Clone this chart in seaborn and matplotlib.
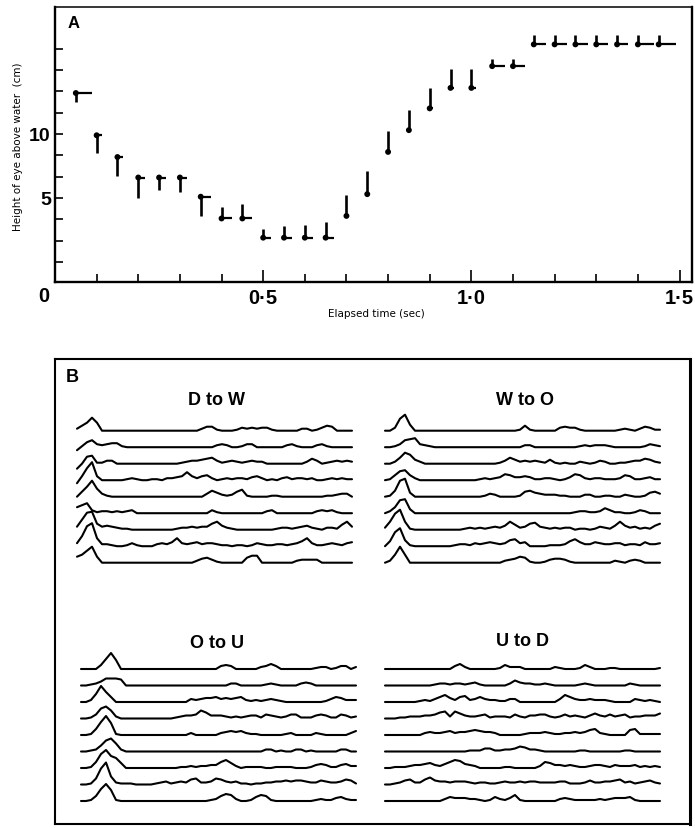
import numpy as np
import pandas as pd
import matplotlib
matplotlib.use("Agg")
import matplotlib.pyplot as plt
import seaborn as sns

sns.set_theme(style="white")
plt.rcParams["font.family"] = ["Liberation Sans", "DejaVu Sans"]
plt.rcParams["text.color"] = "black"
plt.rcParams["axes.labelcolor"] = "black"
plt.rcParams["xtick.color"] = "black"
plt.rcParams["ytick.color"] = "black"

# ---------------- Panel A data ----------------
time_s = [0.05, 0.10, 0.15, 0.20, 0.25, 0.30, 0.35, 0.40, 0.45, 0.50,
          0.55, 0.60, 0.65, 0.70, 0.75, 0.80, 0.85, 0.90, 0.95, 1.00,
          1.05, 1.10, 1.15, 1.20, 1.25, 1.30, 1.35, 1.40, 1.45]
eye_height_cm = [13.2, 9.9, 8.2, 6.6, 6.6, 6.6, 5.1, 3.4, 3.4, 1.9,
                 1.9, 1.9, 1.9, 3.6, 5.3, 8.6, 10.3, 12.0, 13.6, 13.6,
                 15.3, 15.3, 17.0, 17.0, 17.0, 17.0, 17.0, 17.0, 17.0]
stem_cm = [-0.7, -1.4, -1.5, -1.6, -1.0, -1.1, -1.5, 0.9, 1.1, 0.7,
           0.9, 1.0, 1.2, 1.6, 1.8, 1.6, 1.6, 1.6, 1.5, 1.5,
           0.55, 0.55, 0.7, 0.7, 0.7, 0.7, 0.7, 0.7, 0.7]
tail_s = [0.039, 0.012, 0.014, 0.015, 0.017, 0.017, 0.024, 0.024, 0.022, 0.02,
          0.02, 0.02, 0.02, 0.0, 0.0, 0.0, 0.0, 0.008, 0.008, 0.01,
          0.03, 0.03, 0.029, 0.029, 0.031, 0.029, 0.026, 0.038, 0.041]
y_tick_values = [k * 5 / 3 for k in range(11)]
y_tick_text = {5.0: "5", 10.0: "10"}
x_major_ticks = [0.5, 1.0, 1.5]
x_major_labels = ["0·5", "1·0", "1·5"]
x_minor_ticks = [0.1, 0.2, 0.3, 0.4, 0.6, 0.7, 0.8, 0.9, 1.1, 1.2, 1.3, 1.4]

# ---------------- Panel B data (trace heights, 56 samples each) ----------------
panel_titles = ["D to W", "W to O", "O to U", "U to D"]

d_to_w = [
    [2,5,8,13,8,0,0,0, 0,0,0,0,0,0,0,0, 0,0,0,0,0,0,0,0, 0,2,4,4,1,0,0,0, 1,3,2,3,2,3,3,1, 0,0,0,0,0,2,2,0, 1,3,5,4,0,0,0,0],
    [-3,1,5,7,3,2,3,4, 4,1,0,0,0,0,0,0, 0,0,0,0,0,0,0,0, 0,0,0,0,2,3,2,0, 0,1,3,3,0,0,0,0, 0,0,2,3,1,0,0,0, 2,3,1,0,0,0,0,0],
    [-5,0,7,8,1,1,3,3, 0,0,0,0,0,0,0,0, 0,0,0,0,0,1,2,3, 3,4,5,6,3,1,2,3, 2,1,2,3,2,2,0,0, 0,0,0,0,0,0,2,5, 3,0,1,2,3,2,3,2],
    [-3,4,12,18,4,0,0,0, 0,0,1,2,1,0,0,1, 1,0,2,2,3,4,8,4, 2,4,5,2,0,1,2,1, 2,2,1,3,4,2,0,1, 0,2,3,1,2,2,1,2, 0,0,1,2,1,2,1,1],
    [0,5,10,16,8,3,1,0, 0,0,0,0,0,0,0,0, 0,0,0,0,0,0,0,0, 0,0,3,6,4,2,1,2, 5,7,1,0,0,0,0,1, 1,0,0,0,0,0,0,0, 0,0,1,1,2,3,3,0],
    [6,8,10,3,1,2,2,1, 2,1,2,3,0,0,0,0, 0,0,0,0,0,0,0,0, 0,0,0,3,1,0,0,0, 0,0,0,0,0,0,2,3, 0,0,0,0,0,0,0,0, 2,3,2,3,1,0,0,0],
    [3,10,17,18,6,3,4,3, 2,1,1,0,0,0,0,0, 0,0,0,0,1,2,2,3, 2,3,3,6,8,4,2,1, 0,0,0,0,0,0,0,0, 1,2,2,1,2,3,4,2, 1,0,2,2,1,5,8,3],
    [3,10,20,23,8,2,2,1, 0,0,1,3,1,0,0,0, 2,3,2,4,8,3,2,3, 4,2,3,3,2,1,1,0, 1,1,0,1,3,2,1,1, 2,2,1,2,3,5,8,3, 1,1,2,3,2,1,3,4],
    [6,8,12,16,6,0,0,0, 0,0,0,0,0,0,0,0, 0,0,0,0,0,0,0,0, 2,4,5,3,1,0,0,0, 0,0,5,7,7,0,0,0, 0,0,0,0,2,3,3,3, 3,0,0,0,0,0,0,0],
]
w_to_o = [
    [0,0,3,12,16,6,0,0, 0,0,0,0,0,0,0,0, 0,0,0,0,0,0,0,0, 0,0,0,1,5,1,0,0, 0,0,0,3,4,3,3,1, 0,0,0,0,0,0,0,1, 2,1,0,2,4,3,1,1],
    [0,0,1,3,7,8,9,3, 2,1,0,0,0,0,0,0, 0,0,0,0,0,0,0,0, 0,0,0,0,2,2,0,0, 0,0,0,0,0,0,0,1, 2,1,2,2,2,1,0,0, 0,0,0,0,1,3,2,1],
    [0,0,2,6,11,9,4,2, 0,0,0,0,0,0,0,0, 0,0,0,0,0,0,0,1, 3,6,4,2,3,2,3,2, 1,4,1,0,1,0,0,2, 1,0,1,3,2,0,0,1, 1,2,3,3,5,4,2,1],
    [0,1,5,9,10,5,2,0, 0,0,0,0,0,0,0,0, 0,0,0,1,2,1,2,3, 6,5,3,3,4,3,1,1, 2,2,1,0,1,3,6,5, 2,1,2,2,1,1,1,2, 5,4,1,1,2,3,1,1],
    [0,1,6,16,18,4,0,0, 0,0,0,0,0,0,0,0, 0,0,0,0,1,3,2,0, 0,0,0,1,5,6,4,3, 2,2,2,1,1,0,0,0, 2,2,0,0,1,1,0,0, 2,1,0,0,1,4,5,3],
    [0,2,6,13,14,4,0,0, 0,0,0,0,0,0,0,0, 0,0,0,0,0,0,0,0, 0,0,0,0,0,0,0,0, 0,0,0,0,0,0,1,2, 2,1,1,2,5,3,1,1, 0,0,1,3,2,0,0,0],
    [2,8,16,20,8,1,0,0, 0,0,0,0,0,0,0,0, 1,2,1,2,1,2,3,2, 4,8,5,2,3,6,7,3, 2,1,2,1,2,2,0,1, 1,0,1,3,2,1,4,8, 4,2,3,1,2,1,4,6],
    [0,5,14,18,6,1,0,0, 0,0,0,0,0,0,1,2, 2,1,3,2,3,4,3,2, 3,6,7,3,4,0,0,0, 0,1,1,1,2,5,7,4, 2,2,4,3,2,2,3,3, 1,2,2,1,4,2,2,3],
    [0,2,8,16,8,0,0,0, 0,0,0,0,0,0,0,0, 0,0,0,0,0,0,0,0, 2,3,4,6,5,1,0,0, 1,3,4,4,3,1,0,0, 0,0,0,0,0,0,2,1, 0,2,3,2,0,0,0,0],
]
o_to_u = [
    [0,0,0,0,4,10,16,9, 0,0,0,0,0,0,0,0, 0,0,0,0,0,0,0,0, 0,0,0,0,3,4,3,0, 0,0,0,0,2,3,5,3, 0,0,0,0,0,0,0,1, 2,2,0,1,3,3,0,2],
    [0,0,1,2,4,7,7,7, 6,0,0,0,0,0,0,0, 0,0,0,0,0,0,0,0, 0,0,0,0,0,0,2,2, 0,0,0,0,0,1,2,1, 0,0,0,0,2,3,2,0, 0,0,0,0,0,0,0,0],
    [0,0,2,8,16,10,5,0, 0,0,0,0,0,0,0,0, 0,0,0,0,0,0,3,2, 3,4,4,5,3,4,3,4, 5,2,1,2,1,2,3,2, 1,0,0,0,0,0,0,0, 0,1,3,5,4,2,2,2],
    [0,0,1,4,10,12,8,2, 0,0,0,0,0,0,0,0, 0,0,0,1,2,3,3,4, 8,6,3,3,3,2,1,2, 1,2,3,3,1,4,3,2, 1,2,4,4,1,1,1,3, 4,3,1,1,4,3,1,2],
    [0,0,1,6,13,19,12,1, 0,0,0,0,0,0,0,0, 0,0,0,0,0,0,2,0, 0,0,0,0,2,3,4,3, 4,2,1,1,0,0,0,0, 0,1,2,0,0,0,0,2, 1,0,0,0,0,0,2,4],
    [0,0,1,2,6,11,13,8, 2,0,0,0,0,0,0,0, 0,0,0,0,0,0,0,0, 0,0,0,0,0,0,0,0, 0,0,0,0,0,2,2,0, 1,0,0,2,2,0,1,0, 0,0,0,0,2,2,0,0],
    [0,0,1,6,14,18,12,10, 5,0,0,0,0,0,0,0, 0,0,0,0,1,1,2,1, 2,2,3,3,6,8,5,2, 0,1,1,1,1,0,0,1, 1,1,1,0,0,0,1,3, 4,3,1,1,3,4,2,2],
    [0,0,1,6,16,22,8,2, 1,1,1,0,0,0,0,1, 2,3,1,2,3,2,5,6, 2,2,3,6,5,3,2,3, 1,1,0,1,1,2,2,3, 3,4,3,4,4,3,2,2, 4,3,2,2,3,5,4,1],
    [0,0,1,5,12,17,11,1, 0,0,0,0,0,0,0,0, 0,0,0,0,0,0,0,0, 0,0,1,2,5,7,6,2, 0,0,1,4,6,5,1,0, 0,0,0,0,0,0,0,1, 2,1,1,3,4,2,1,1],
]
u_to_d = [
    [0,0,0,0,0,0,0,0, 0,0,0,0,0,0,3,5, 2,0,0,0,0,0,0,1, 4,2,2,2,0,0,0,0, 0,0,2,1,0,0,0,1, 4,2,0,0,0,1,1,0, 0,0,0,0,0,0,0,1],
    [0,0,0,0,0,0,0,0, 0,0,1,2,2,1,2,2, 1,2,3,1,0,0,0,0, 0,2,5,3,2,2,1,1, 2,1,0,0,0,0,0,1, 2,1,0,0,0,0,0,0, 0,2,1,0,0,0,0,0],
    [0,0,0,0,0,0,0,1, 2,1,3,5,7,4,2,5, 6,2,3,5,3,2,2,1, 1,3,3,0,0,0,0,0, 0,0,0,3,7,5,3,2, 2,3,2,2,2,1,0,0, 0,0,3,2,1,2,1,0],
    [0,0,0,1,1,2,2,2, 3,3,4,6,7,2,7,5, 3,2,2,3,4,1,2,2, 2,1,4,2,1,3,3,4, 4,2,1,2,4,2,3,2, 1,3,5,3,2,4,2,3, 4,1,2,2,3,3,3,5],
    [0,0,0,0,0,0,0,0, 2,3,2,2,3,4,2,3, 3,4,5,4,3,3,2,0, 0,0,0,0,1,2,2,2, 3,2,1,1,2,2,3,2, 3,5,6,2,1,0,0,0, 0,5,6,1,1,1,1,1],
    [0,0,0,0,0,0,0,0, 0,0,0,0,0,0,0,0, 0,1,1,1,3,3,1,1, 2,2,3,5,4,2,2,1, 0,0,0,0,0,0,0,1, 1,0,0,0,0,0,0,0, 1,1,0,0,0,0,0,0],
    [0,0,1,1,1,2,3,3, 4,5,3,2,4,6,8,7, 4,3,2,0,0,0,0,0, 1,1,0,0,0,0,0,2, 6,5,3,3,2,3,2,1, 1,2,3,3,2,1,3,2, 2,2,3,1,2,1,2,1],
    [0,0,1,2,4,5,2,2, 5,7,4,3,3,2,3,3, 3,2,1,2,2,1,1,2, 3,2,2,3,2,3,3,2, 2,2,2,3,3,1,1,1, 2,4,2,2,3,3,4,5, 2,3,1,2,3,4,2,1],
    [0,0,0,0,0,0,0,0, 0,0,0,0,2,4,3,3, 3,2,2,1,0,1,4,2, 1,3,6,1,0,0,0,0, 0,0,0,2,3,2,1,1, 1,1,1,2,1,2,3,3, 3,4,1,0,0,0,0,0],
]
panel_traces = [d_to_w, w_to_o, o_to_u, u_to_d]

for tr in panel_traces:
    for row in tr:
        assert len(row) == 56, len(row)

# ---------------- figure ----------------
W, H = 695, 829
fig = plt.figure(figsize=(W / 100, H / 100), dpi=100)
fig.patch.set_facecolor("white")


def frac(left, top, right, bottom):
    return [left / W, 1 - bottom / H, (right - left) / W, (bottom - top) / H]


# ---- Panel A ----
axA = fig.add_axes(frac(55, 8, 692, 283))
axA.set_facecolor("none")
axA.set_xlim(0, 1.53)
axA.set_ylim(-1.5625, 19.92)
dfA = pd.DataFrame({"t": time_s, "h": eye_height_cm, "stem": stem_cm, "tail": tail_s})
axA.vlines(dfA["t"], dfA["h"], dfA["h"] + dfA["stem"], color="black", lw=1.9)
axA.hlines(dfA["h"], dfA["t"], dfA["t"] + dfA["tail"], color="black", lw=1.6)
sns.scatterplot(data=dfA, x="t", y="h", ax=axA, color="black", s=18,
                edgecolor="none", zorder=3, legend=False)
axA.set_xlabel("")
axA.set_ylabel("")
for s in axA.spines.values():
    s.set_visible(True)
    s.set_color("black")
    s.set_linewidth(1.7)
axA.spines["top"].set_linewidth(1.1)

axA.set_yticks(y_tick_values)
axA.set_yticklabels([y_tick_text.get(round(v, 6), "") for v in y_tick_values],
                    fontsize=14, fontweight="bold")
axA.set_xticks(x_major_ticks)
axA.set_xticklabels(x_major_labels, fontsize=14.5, fontweight="bold")
axA.set_xticks(x_minor_ticks, minor=True)
axA.tick_params(axis="y", which="both", left=True, direction="in", length=6,
                width=1.2, pad=3, colors="black")
axA.tick_params(axis="x", which="major", bottom=True, direction="in", length=9,
                width=1.2, pad=4, colors="black")
axA.tick_params(axis="x", which="minor", bottom=True, direction="in", length=6,
                width=1.2, colors="black")
fig.text(44 / W, 1 - 297 / H, "0", fontsize=14.5, fontweight="bold",
         ha="center", va="center")
fig.text(74 / W, 1 - 24 / H, "A", fontsize=12, fontweight="bold",
         ha="center", va="center")
fig.text(18 / W, 1 - 147 / H, "Height of eye above water  (cm)", rotation=90,
         fontsize=7.5, family=["DejaVu Sans"], ha="center", va="center")
fig.text(376 / W, 1 - 314 / H, "Elapsed time (sec)", fontsize=7.5,
         family=["DejaVu Sans"], ha="center", va="center")

# ---- Panel B frame ----
axB = fig.add_axes(frac(55, 360, 690, 825))
axB.set_facecolor("none")
axB.set_xticks([])
axB.set_yticks([])
for s in axB.spines.values():
    s.set_visible(True)
    s.set_color("black")
    s.set_linewidth(1.5)
axB.spines["right"].set_linewidth(2.2)
fig.text(72 / W, 1 - 378 / H, "B", fontsize=13, fontweight="bold",
         ha="center", va="center")

spacing = 16.5
quad_origin = [(77, 431.7), (385, 431.7), (81, 670.0), (385, 670.0)]
title_pos = [(217, 401), (525, 401), (217, 643), (522, 642)]

for q, (traces, (x0, b0), title, (tx, ty)) in enumerate(
        zip(panel_traces, quad_origin, panel_titles, title_pos)):
    ax = fig.add_axes(frac(x0, b0 - 30, x0 + 275, b0 + 150))
    ax.set_facecolor("none")
    rows = []
    for k, tr in enumerate(traces):
        for i, v in enumerate(tr):
            rows.append({"trace": k, "sample": i, "y": v - k * spacing})
    df = pd.DataFrame(rows)
    sns.lineplot(data=df, x="sample", y="y", units="trace", estimator=None,
                 color="black", lw=1.5, ax=ax, legend=False)
    for ln in ax.lines:
        ln.set_clip_on(False)
        ln.set_solid_joinstyle("round")
    ax.set_xlim(0, 55)
    ax.set_ylim(-150, 30)
    ax.axis("off")
    fig.text(tx / W, 1 - ty / H, title, fontsize=13, fontweight="bold",
             ha="center", va="center")

fig.savefig("out.png", dpi=100, facecolor="white")
